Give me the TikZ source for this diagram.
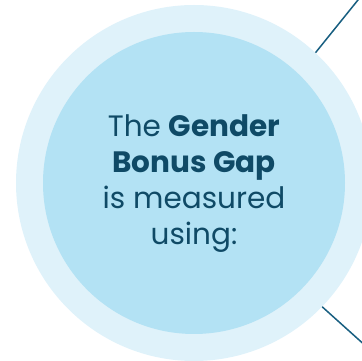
\documentclass[tikz,border=0pt]{standalone}
\usepackage{fontspec}
\setmainfont{Poppins}
\usepackage{tikz}
\definecolor{ringblue}{HTML}{DFF2FA}
\definecolor{discblue}{HTML}{B3E2F4}
\definecolor{textblue}{HTML}{0F4A66}
\definecolor{lineblue}{HTML}{175E80}
\begin{document}
\begin{tikzpicture}[x=1pt,y=1pt]
\useasboundingbox (0,0) rectangle (362,361);
\node[circle, fill=ringblue, minimum size=356pt, inner sep=0pt] (outer) at (194,178) {};
\node[circle, fill=discblue, minimum size=302pt, inner sep=0pt] (inner) at (194,178) {};
\node[text=textblue, font=\fontsize{29.5}{36}\selectfont, align=center] (label) at (194,177)
   {The \textbf{Gender}\\ \textbf{Bonus Gap}\\ is measured\\ using:};
\coordinate (topend) at (362,366);
\coordinate (bottomend) at (368,13);
\draw[lineblue, line width=1.5pt] (outer.47) -- (topend);
\draw[lineblue, line width=1.5pt] (outer.-44) -- (bottomend);
\end{tikzpicture}
\end{document}
